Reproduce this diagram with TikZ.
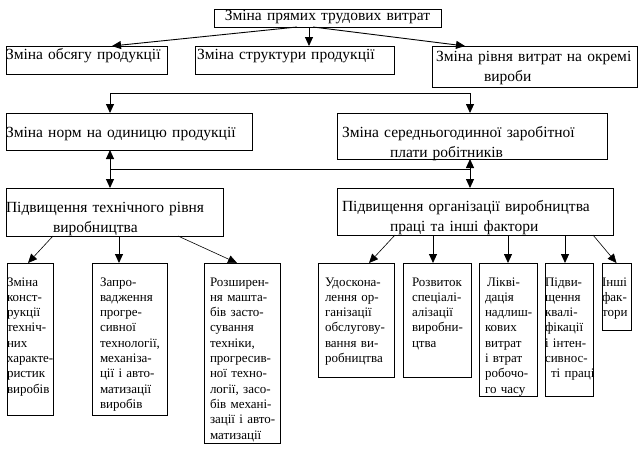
\documentclass[tikz,border=0pt]{standalone}
\usepackage{fontspec}
\setmainfont{Liberation Serif}
\usetikzlibrary{arrows.meta}

\begin{document}
\begin{tikzpicture}
[x=1pt, y=-1pt, line width=0.9pt,
box/.style={draw, anchor=north west, inner ysep=0pt, outer sep=0pt, align=left,
  execute at begin node={\hyphenpenalty=10000 \exhyphenpenalty=10000 }},
upper/.style={box, font=\fontsize{15.5}{20}\selectfont},
lower/.style={box, font=\fontsize{13}{15.3}\selectfont},
arr/.style={-{Triangle[length=9pt, width=8pt]}},
]
\useasboundingbox (0,0) rectangle (644,450);

% top levels
\node[upper, align=center, inner xsep=0pt, text width=227pt, text height=11.5pt, text depth=6.5pt] (top) at (214,9) {Зміна прямих трудових витрат};
\node[upper, inner xsep=0pt, text width=161pt, text height=13pt, text depth=15pt] (volume) at (6,46) {Зміна обсягу продукції};
\node[upper, inner xsep=2pt, text width=195pt, text height=13pt, text depth=15pt] (structure) at (195,46) {Зміна структури продукції};
\node[upper, inner xsep=4pt, text width=197pt, text height=15pt, text depth=26pt] (items) at (432,46) {Зміна~рівня~витрат~на~окремі\\\hspace*{48pt}вироби};

\node[upper, inner xsep=0pt, text width=246pt, text height=24pt, text depth=13pt] (norms) at (6,113) {Зміна норм на одиницю продукції};
\node[upper, inner xsep=5pt, text width=260pt, text height=24pt, text depth=22pt] (wage) at (337,113) {Зміна середньогодинної заробітної\\\hspace*{48pt}плати робітників};

\node[upper, inner xsep=0pt, text width=217pt, text height=24pt, text depth=24pt] (tech) at (6,188) {Підвищення технічного рівня\\\hspace*{47pt}виробництва};
\node[upper, inner xsep=5pt, text width=266pt, text height=23.5pt, text depth=23.5pt] (org) at (337,188) {Підвищення організації виробництва\\\hspace*{48pt}праці та інші фактори};

% factors
\node[lower, inner xsep=0pt, text width=46pt, text height=23pt, text depth=129pt] (design) at (7,263) {Зміна\\конст-\\рукції\\техніч-\\них\\характе-\\ристик\\виробів};
\node[lower, inner xsep=8pt, text width=59pt, text height=23pt, text depth=129pt] (technol) at (92,263) {Запро-\\вадження\\прогре-\\сивної\\технології,\\механіза-\\ції~і~авто-\\матизації\\виробів};
\node[lower, inner xsep=6pt, text width=64pt, text height=23pt, text depth=157pt] (scale) at (204,263) {Розширен-\\ня~машта-\\бів~засто-\\сування\\техніки,\\прогресив-\\ної~техно-\\логії,~засо-\\бів~механі-\\зації~і~авто-\\матизації};

\node[lower, inner xsep=7pt, text width=62pt, text height=23pt, text depth=91pt] (service) at (318,263) {Удоскона-\\лення~ор-\\ганізації\\обслугову-\\вання~ви-\\робництва};
\node[lower, inner xsep=9pt, text width=50pt, text height=23pt, text depth=91pt] (special) at (403,263) {Розвиток\\спеціалі-\\алізації\\виробни-\\цтва};
\node[lower, inner xsep=6pt, text width=46pt, text height=23pt, text depth=110pt] (losses) at (479,263) {\hspace*{2pt}Лікві-\\дація\\надлиш-\\кових\\витрат\\і~втрат\\робочо-\\го~часу};
\node[lower, inner xsep=0pt, text width=48pt, text height=23pt, text depth=110pt] (skill) at (545,263) {Підви-\\щення\\квалі-\\фікації\\і~інтен-\\сивнос-\\\hspace*{6pt}ті~праці};
\node[lower, inner xsep=0pt, text width=29pt, text height=23pt, text depth=44pt] (other) at (602,263) {Інші\\фак-\\тори};

% junctions
\coordinate (t1) at (110,93);
\coordinate (t2) at (470,93);
\coordinate (j1) at (110,169);
\coordinate (j2) at (470,169);

\draw[arr] ([xshift=-30.5pt]top.south) -- ([xshift=25.5pt]volume.north);
\draw[arr] ([xshift=-18.5pt]top.south) -- ([xshift=14.5pt]structure.north);
\draw[arr] ([xshift=-14.5pt]top.south) -- ([xshift=-69.5pt]items.north);

\draw[{Triangle[length=9pt, width=8pt]}-{Triangle[length=9pt, width=8pt]}] (t1 |- norms.north) -- (t1) -- (t2) -- (t2 |- wage.north);
\draw (j1) -- (j2);
\draw[arr] (j1) -- (j1 |- norms.south);
\draw[arr] (j1) -- (j1 |- tech.north);
\draw[arr] (j2) -- (j2 |- wage.south);
\draw[arr] (j2) -- (j2 |- org.north);

\draw[arr, line width=0.6pt] ([xshift=-61.5pt]tech.south) -- ([xshift=-2pt]design.north);
\draw[arr] ([xshift=4.5pt]tech.south) -- ([xshift=-10.5pt]technol.north);
\draw[arr, line width=0.6pt] ([xshift=63.5pt]tech.south) -- ([xshift=-5pt]scale.north);

\draw[arr, line width=0.6pt] ([xshift=-80pt]org.south) -- ([xshift=13pt]service.north);
\draw[arr] ([xshift=-42pt]org.south) -- ([xshift=-4pt]special.north);
\draw[arr] ([xshift=33pt]org.south) -- (losses.north);
\draw[arr] ([xshift=90pt]org.south) -- ([xshift=-4pt]skill.north);
\draw[arr, line width=0.6pt] ([xshift=118pt]org.south) -- (other.north);
\end{tikzpicture}
\end{document}
